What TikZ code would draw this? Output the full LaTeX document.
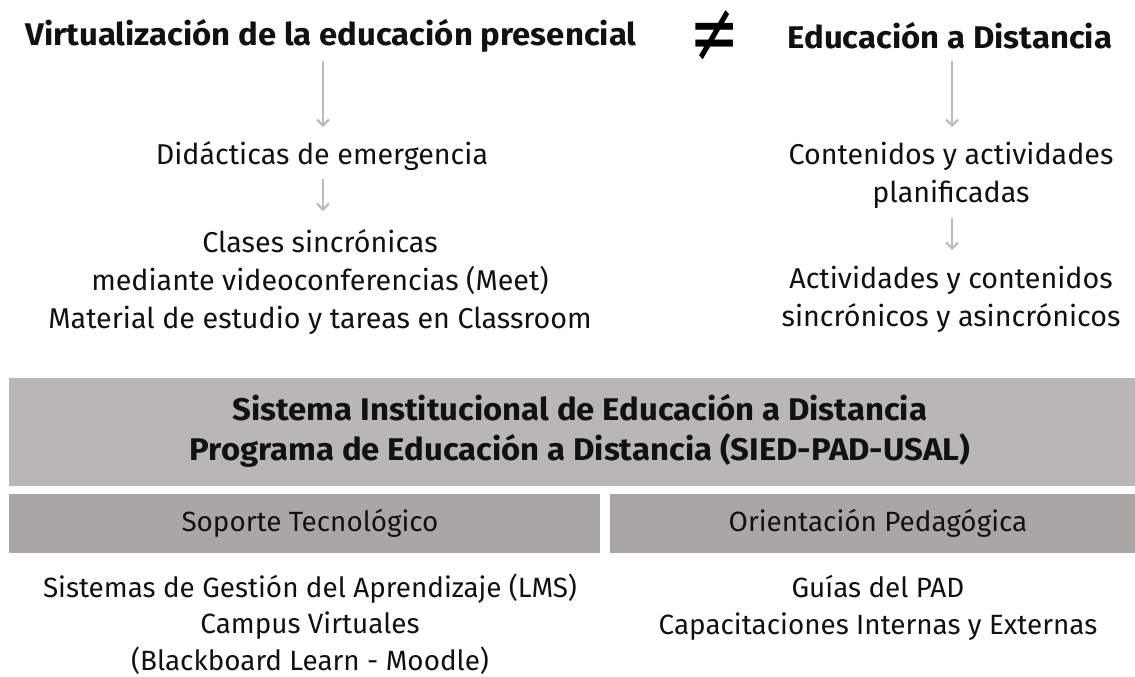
\documentclass[tikz,border=0pt]{standalone}
\usepackage{fontspec}
\setmainfont{Fira Sans}
\newfontfamily\headfont{Fira Sans Bold}[FakeStretch=1.05]
\newfontfamily\symfont{DejaVu Sans}
\usetikzlibrary{arrows.meta}
\definecolor{bigbox}{HTML}{B8B6B7}
\definecolor{subbox}{HTML}{ABA6A6}
\definecolor{arrowc}{HTML}{BBBBBB}
\definecolor{txt}{HTML}{111111}
\begin{document}
\begin{tikzpicture}[x=0.75pt,y=-0.75pt,
  title/.style={font=\fontsize{23.5}{28}\headfont, text=txt, inner sep=0pt},
  body/.style={font=\fontsize{21.5}{28.5}\selectfont, text=txt, align=center, inner sep=0pt},
  lower/.style={font=\fontsize{20.9}{27.4}\selectfont, text=txt, align=center, inner sep=0pt},
  head/.style={font=\fontsize{23.5}{30.5}\headfont, text=txt, align=center, inner sep=0pt},
  flow/.style={draw=arrowc, line width=1.6pt, -{Straight Barb[length=4.5pt,width=9pt,line width=1.6pt]}},
  bigfill/.style={fill=bigbox, draw=none},
  subfill/.style={fill=subbox, draw=none}]
\useasboundingbox (0,0) rectangle (1135,676);
% headings
\node[title] (vir) at (331,36) {Virtualización de la educación presencial};
\node[font=\fontsize{36}{36}\symfont, text=black, inner sep=0pt] (neq) at (714.5,36) {\scalebox{1.25}[1.75]{≠}};
\node[title] (ead) at (950,36) {Educación a Distancia};
% left column
\node[body] (did) at (322,156) {Didácticas de emergencia};
\node[body] (cla) at (320,282) {Clases sincrónicas\\mediante videoconferencias (Meet)\\Material de estudio y tareas en Classroom};
% right column
\node[body] (con) at (951,175) {Contenidos y actividades\\planificadas};
\node[body] (act) at (951,299) {Actividades y contenidos\\sincrónicos y asincrónicos};
% arrows
\coordinate (a1s) at (323,61); \coordinate (a1e) at (323,127);
\coordinate (a2s) at (323,179); \coordinate (a2e) at (323,211);
\coordinate (b1s) at (952,61); \coordinate (b1e) at (952,127);
\coordinate (b2s) at (952,218); \coordinate (b2e) at (952,250);
\draw[flow] (a1s) -- (a1e);
\draw[flow] (a2s) -- (a2e);
\draw[flow] (b1s) -- (b1e);
\draw[flow] (b2s) -- (b2e);
% boxes
\fill[bigfill] (9,378) rectangle (1135,486);
\node[head] (sied) at (580,431) {Sistema Institucional de Educación a Distancia\\Programa de Educación a Distancia (SIED-PAD-USAL)};
\fill[subfill] (9,494) rectangle (600,553);
\fill[subfill] (610,494) rectangle (1135,553);
\node[lower] (sop) at (310,523) {Soporte Tecnológico};
\node[lower] (ori) at (878,523) {Orientación Pedagógica};
\node[lower] (lms) at (310,624) {Sistemas de Gestión del Aprendizaje (LMS)\\Campus Virtuales\\(Blackboard Learn - Moodle)};
\node[lower] (gui) at (878,608) {Guías del PAD\\Capacitaciones Internas y Externas};
\end{tikzpicture}
\end{document}
